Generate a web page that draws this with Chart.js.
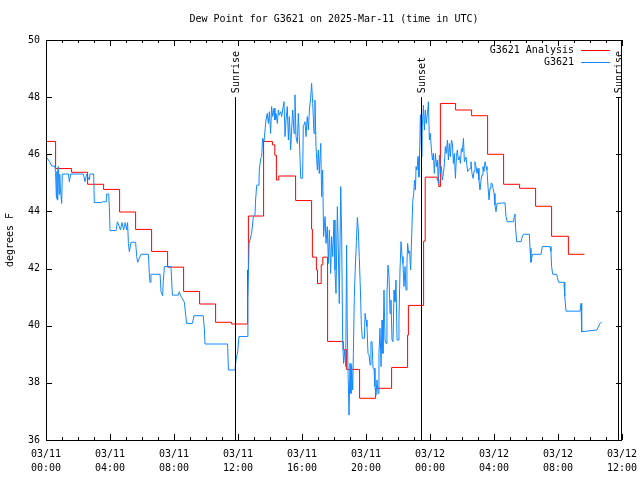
<!DOCTYPE html>
<html>
<head>
<meta charset="utf-8">
<title>Dew Point for G3621</title>
<script src="https://cdn.jsdelivr.net/npm/chart.js@4.4.1/dist/chart.umd.min.js"></script>
<style>
  html, body { margin: 0; padding: 0; background: #fff; }
</style>
</head>
<body>
<canvas id="dewChart" width="640" height="480"></canvas>
<script>
// =================================================================
// Data (hours since 03/11 00:00 UTC)
// =================================================================
const chartTitle = 'Dew Point for G3621 on 2025-Mar-11 (time in UTC)';
const yAxisLabel = 'degrees F';

const xTickHours = [0, 4, 8, 12, 16, 20, 24, 28, 32, 36];
const xTickDates = ['03/11', '03/11', '03/11', '03/11', '03/11', '03/11', '03/12', '03/12', '03/12', '03/12'];
const xTickTimes = ['00:00', '04:00', '08:00', '12:00', '16:00', '20:00', '00:00', '04:00', '08:00', '12:00'];

const eventNames = ['Sunrise', 'Sunset', 'Sunrise'];
const eventHours = [11.8, 23.44, 35.75];

const seriesNames = ['G3621 Analysis', 'G3621'];
const seriesColors = ['#ff0000', '#1188ff'];

// analysis: [hour the step starts, value]
const analysisSteps = [
  [0, 46.45], [0.6, 45.5], [1.6, 45.37], [2.6, 44.95], [3.6, 44.77], [4.6, 43.98],
  [5.6, 43.37], [6.6, 42.6], [7.6, 42.05], [8.6, 41.2], [9.6, 40.76], [10.6, 40.12],
  [11.6, 40.06], [12.6, 41.95], [12.65, 43.84], [13.6, 46.45], [14.15, 46.33], [14.3, 45.97],
  [14.4, 45.1], [14.55, 45.24], [15.6, 44.38], [16.6, 43.38], [16.65, 42.4], [16.9, 41.95],
  [16.97, 41.48], [17.2, 42.13], [17.3, 42.4], [17.6, 39.45], [18.58, 39.16], [18.79, 38.47],
  [19.6, 37.46], [20.6, 37.81], [21.6, 38.54], [22.6, 39.67], [22.65, 40.71], [23.6, 42.96],
  [23.7, 45.2], [24.45, 45.1], [24.55, 44.87], [24.65, 47.78], [25.6, 47.55], [26.6, 47.35],
  [27.6, 46.0], [28.6, 44.95], [29.6, 44.81], [30.6, 44.18], [31.6, 43.13], [32.65, 42.5],
  [33.65, 42.5]
];

// station observations: [hour, value]
const stationReadings = [
  [0.0, 46.0], [0.04, 45.89], [0.25, 45.72], [0.35, 45.59], [0.55, 45.59], [0.6, 45.36],
  [0.65, 44.46], [0.68, 45.4], [0.71, 44.4], [0.74, 45.5], [0.77, 45.57], [0.82, 44.6],
  [0.86, 45.3], [0.9, 44.8], [0.98, 44.28], [1.02, 45.31], [1.4, 45.31], [1.46, 45.04],
  [1.54, 45.31], [2.33, 45.31], [2.44, 45.04], [2.54, 45.31], [2.6, 45.22], [2.71, 45.1],
  [2.75, 45.31], [2.98, 45.31], [3.02, 44.31], [3.48, 44.31], [3.55, 44.34], [3.75, 44.34],
  [3.79, 44.61], [3.92, 44.61], [3.96, 44.14], [4.0, 43.33], [4.38, 43.33], [4.46, 43.64],
  [4.55, 43.52], [4.65, 43.35], [4.75, 43.61], [4.85, 43.35], [4.95, 43.61], [5.05, 43.35],
  [5.1, 43.61], [5.15, 42.88], [5.21, 42.59], [5.31, 42.92], [5.6, 42.92], [5.67, 42.42],
  [5.73, 42.22], [5.83, 42.36], [5.94, 42.5], [6.4, 42.5], [6.46, 41.8], [6.5, 41.52],
  [6.56, 41.8], [7.13, 41.8], [7.19, 41.19], [7.29, 41.05], [7.33, 41.54], [7.4, 42.07],
  [7.81, 42.07], [7.9, 41.07], [8.27, 41.07], [8.33, 41.19], [8.4, 41.07], [8.65, 40.82],
  [8.73, 40.37], [8.79, 40.08], [9.15, 40.08], [9.25, 40.35], [9.83, 40.35], [9.9, 39.85],
  [9.94, 39.36], [11.35, 39.36], [11.4, 38.45], [11.81, 38.45], [11.875, 38.8], [11.98, 39.09],
  [12.06, 39.62], [12.58, 39.62], [12.62, 40.9], [12.69, 42.88], [12.85, 43.23], [12.96, 43.82],
  [13.06, 43.87], [13.1, 44.4], [13.17, 44.92], [13.31, 44.92], [13.33, 45.45], [13.42, 45.86],
  [13.48, 45.92], [13.54, 46.56], [13.625, 46.44], [13.69, 46.85], [13.75, 47.2], [13.83, 47.43],
  [13.9, 47.08], [13.96, 47.49], [14.04, 46.73], [14.1, 47.67], [14.17, 47.32], [14.25, 47.61],
  [14.31, 47.2], [14.375, 47.43], [14.46, 47.08], [14.52, 47.55], [14.58, 47.37], [14.67, 47.49],
  [14.73, 47.32], [14.79, 47.55], [14.875, 47.84], [14.94, 46.62], [15.0, 47.2], [15.08, 47.67],
  [15.15, 46.5], [15.21, 47.32], [15.29, 46.15], [15.35, 46.85], [15.42, 47.55], [15.5, 46.73],
  [15.56, 48.08], [15.625, 46.62], [15.71, 46.38], [15.77, 47.43], [15.83, 46.62], [15.92, 45.16],
  [16.04, 45.16], [16.08, 46.97], [16.19, 47.14], [16.25, 46.62], [16.33, 47.32], [16.4, 46.85],
  [16.46, 47.55], [16.54, 47.96], [16.6, 48.48], [16.67, 47.78], [16.75, 46.73], [16.81, 47.9],
  [16.875, 46.27], [16.96, 45.45], [17.02, 46.15], [17.08, 45.33], [17.17, 46.38], [17.23, 44.52],
  [17.29, 45.45], [17.35, 43.12], [17.44, 43.82], [17.5, 42.88], [17.58, 43.47], [17.65, 42.18],
  [17.71, 43.35], [17.79, 41.83], [17.85, 43.12], [17.92, 42.42], [18.0, 43.7], [18.06, 41.95],
  [18.125, 41.13], [18.21, 44.17], [18.27, 42.65], [18.33, 40.78], [18.42, 44.87], [18.48, 43.12],
  [18.54, 39.5], [18.6, 38.68], [18.67, 39.15], [18.73, 38.57], [18.79, 42.82], [18.83, 39.85],
  [18.88, 38.3], [18.94, 36.87], [19.0, 38.68], [19.06, 37.63], [19.1, 38.6], [19.17, 37.75],
  [19.21, 39.03], [19.27, 41.02], [19.33, 42.01], [19.4, 42.94], [19.46, 43.79], [19.52, 43.35],
  [19.58, 42.42], [19.65, 41.25], [19.71, 40.02], [19.77, 39.56], [19.9, 39.56], [19.94, 40.43],
  [20.0, 40.2], [20.06, 39.97], [20.125, 39.03], [20.19, 38.97], [20.25, 38.63], [20.31, 39.44],
  [20.375, 39.44], [20.44, 38.51], [20.5, 38.51], [20.56, 37.87], [20.625, 37.57], [20.69, 38.1],
  [20.75, 37.63], [20.81, 39.03], [20.875, 39.91], [20.94, 38.57], [21.0, 40.2], [21.06, 39.03],
  [21.125, 41.25], [21.19, 39.5], [21.25, 39.38], [21.31, 41.07], [21.375, 42.12], [21.44, 41.72],
  [21.5, 40.43], [21.56, 40.9], [21.625, 39.5], [21.69, 39.44], [21.75, 41.25], [21.81, 40.84],
  [21.875, 41.6], [21.94, 39.5], [22.0, 39.5], [22.06, 40.2], [22.125, 41.95], [22.19, 42.94],
  [22.25, 42.42], [22.31, 42.18], [22.375, 41.37], [22.44, 42.07], [22.5, 41.25], [22.56, 42.18],
  [22.6, 42.88], [22.67, 42.53], [22.73, 42.6], [22.79, 41.95], [22.86, 43.23], [22.92, 44.34],
  [22.98, 44.63], [23.04, 45.1], [23.09, 44.75], [23.13, 45.57], [23.19, 45.45], [23.25, 45.92],
  [23.31, 45.2], [23.36, 46.27], [23.4, 47.38], [23.44, 46.62], [23.48, 45.92], [23.52, 46.97],
  [23.59, 47.72], [23.65, 46.85], [23.71, 47.55], [23.77, 47.08], [23.84, 47.43], [23.9, 47.84],
  [23.96, 46.5], [24.02, 46.73], [24.09, 46.15], [24.15, 45.8], [24.21, 46.03], [24.27, 45.33],
  [24.34, 46.03], [24.4, 45.57], [24.46, 45.8], [24.52, 44.98], [24.59, 45.97], [24.65, 45.33],
  [24.71, 45.57], [24.77, 45.1], [24.84, 45.33], [24.9, 45.68], [24.96, 46.27], [25.02, 46.03],
  [25.09, 46.5], [25.15, 45.8], [25.21, 46.38], [25.27, 45.92], [25.34, 46.5], [25.4, 46.38],
  [25.46, 45.68], [25.52, 46.03], [25.59, 45.16], [25.65, 45.92], [25.71, 46.15], [25.77, 45.8],
  [25.84, 45.92], [25.9, 45.68], [25.96, 46.2], [26.02, 46.09], [26.09, 46.56], [26.15, 45.74],
  [26.25, 45.9], [26.35, 45.4], [26.5, 45.51], [26.56, 45.74], [26.625, 45.33], [26.69, 45.16],
  [26.75, 45.4], [26.81, 45.74], [26.875, 45.57], [26.94, 45.33], [27.0, 45.51], [27.06, 45.1],
  [27.125, 44.75], [27.19, 45.1], [27.25, 45.28], [27.31, 45.57], [27.375, 45.4], [27.44, 45.74],
  [27.5, 45.57], [27.56, 45.45], [27.625, 44.87], [27.69, 44.4], [27.75, 44.81], [27.81, 44.98],
  [27.875, 44.98], [27.94, 44.81], [28.0, 44.63], [28.06, 44.22], [28.125, 43.99], [28.19, 44.28],
  [28.69, 44.3], [28.75, 43.82], [28.83, 43.64], [29.21, 43.64], [29.27, 43.82], [29.31, 43.91],
  [29.35, 43.41], [29.42, 42.94], [29.69, 42.94], [29.79, 43.17], [29.875, 43.2], [30.21, 43.2],
  [30.25, 42.71], [30.31, 42.22], [30.4, 42.5], [30.94, 42.5], [31.02, 42.77], [31.5, 42.77],
  [31.56, 42.6], [31.6, 42.07], [31.67, 41.8], [31.92, 41.8], [31.96, 41.68], [32.04, 41.52],
  [32.375, 41.52], [32.42, 41.04], [32.5, 40.51], [33.375, 40.51], [33.44, 40.78], [33.48, 39.79],
  [34.42, 39.85], [34.625, 40.08], [34.73, 40.14]
];

const FONT = { family: "'DejaVu Sans Mono', 'Liberation Mono', monospace", size: 10 };

// =================================================================
// gnuplot-like frame: border, inward ticks, title, legend, sun events
// =================================================================
const framePlugin = {
  id: 'gnuplotFrame',
  afterDatasetsDraw(chart) {
    const { ctx, chartArea: a, scales: { x, y } } = chart;
    ctx.save();
    ctx.strokeStyle = '#000';
    ctx.lineWidth = 1;

    // sunrise / sunset markers
    const markTop = y.getPixelForValue(48);
    ctx.fillStyle = '#000';
    ctx.font = `${FONT.size}px ${FONT.family}`;
    eventHours.forEach((h, i) => {
      const px = Math.round(x.getPixelForValue(h)) + 0.5;
      ctx.beginPath();
      ctx.moveTo(px, markTop);
      ctx.lineTo(px, a.bottom);
      ctx.stroke();
      ctx.save();
      ctx.translate(px + 1, markTop - 4);
      ctx.rotate(-Math.PI / 2);
      ctx.textAlign = 'left';
      ctx.textBaseline = 'middle';
      ctx.fillText(eventNames[i], 0, 0);
      ctx.restore();
    });

    // border
    ctx.strokeRect(a.left + 0.5, a.top + 0.5, a.right - a.left - 1, a.bottom - a.top);

    // ticks pointing inward
    ctx.beginPath();
    x.ticks.forEach(t => {
      const px = Math.round(x.getPixelForValue(t.value)) + 0.5;
      const len = xTickHours.includes(t.value) ? 6 : 3;
      ctx.moveTo(px, a.bottom);
      ctx.lineTo(px, a.bottom - len);
      ctx.moveTo(px, a.top);
      ctx.lineTo(px, a.top + len);
    });
    y.ticks.forEach(t => {
      const py = Math.round(y.getPixelForValue(t.value)) + 0.5;
      ctx.moveTo(a.left, py);
      ctx.lineTo(a.left + 6, py);
      ctx.moveTo(a.right, py);
      ctx.lineTo(a.right - 6, py);
    });
    ctx.stroke();

    // title
    ctx.textAlign = 'center';
    ctx.textBaseline = 'middle';
    ctx.fillText(chartTitle, (a.left + a.right) / 2, 19.5);

    // legend (text first, then line sample)
    ctx.textAlign = 'right';
    seriesNames.forEach((name, i) => {
      const ly = 50 + i * 12;
      ctx.fillStyle = '#000';
      ctx.fillText(name, 574, ly);
      ctx.strokeStyle = seriesColors[i];
      ctx.beginPath();
      ctx.moveTo(581, Math.round(ly) + 0.5);
      ctx.lineTo(610, Math.round(ly) + 0.5);
      ctx.stroke();
    });
    ctx.restore();
  }
};

// =================================================================
// Chart
// =================================================================
const ctx = document.getElementById('dewChart').getContext('2d');

new Chart(ctx, {
  type: 'line',
  data: {
    datasets: [{
      label: seriesNames[0],
      data: analysisSteps.map(p => ({ x: p[0], y: p[1] })),
      borderColor: seriesColors[0],
      borderWidth: 1,
      stepped: true,
      pointRadius: 0,
      fill: false,
      order: 2
    }, {
      label: seriesNames[1],
      data: stationReadings.map(p => ({ x: p[0], y: p[1] })),
      borderColor: seriesColors[1],
      borderWidth: 1,
      tension: 0,
      pointRadius: 0,
      fill: false,
      order: 1
    }]
  },
  options: {
    responsive: false,
    animation: false,
    layout: { padding: { top: 40, right: 18, left: 0, bottom: 0 } },
    plugins: {
      legend: { display: false },
      title: { display: false },
      tooltip: { enabled: false }
    },
    scales: {
      x: {
        type: 'linear',
        min: 0,
        max: 36,
        grid: { display: false, drawTicks: false },
        border: { display: false },
        ticks: {
          stepSize: 1,
          autoSkip: false,
          maxRotation: 0,
          maxTicksLimit: 100,
          padding: 7,
          color: '#000',
          font: { ...FONT, lineHeight: 1.4 },
          callback: (value) => {
            const i = xTickHours.indexOf(value);
            return i >= 0 ? [xTickDates[i], xTickTimes[i]] : '';
          }
        },
        afterFit: (scale) => {
          scale.height = 40;
          scale.paddingLeft = 0;
          scale.paddingRight = 0;
        }
      },
      y: {
        min: 36,
        max: 50,
        grid: { display: false, drawTicks: false },
        border: { display: false },
        ticks: { stepSize: 2, padding: 6, color: '#000', font: FONT },
        title: {
          display: true,
          text: yAxisLabel,
          color: '#000',
          font: FONT,
          padding: { top: 4, bottom: 0 }
        },
        afterFit: (scale) => { scale.width = 46; }
      }
    }
  },
  plugins: [framePlugin]
});
</script>
</body>
</html>
